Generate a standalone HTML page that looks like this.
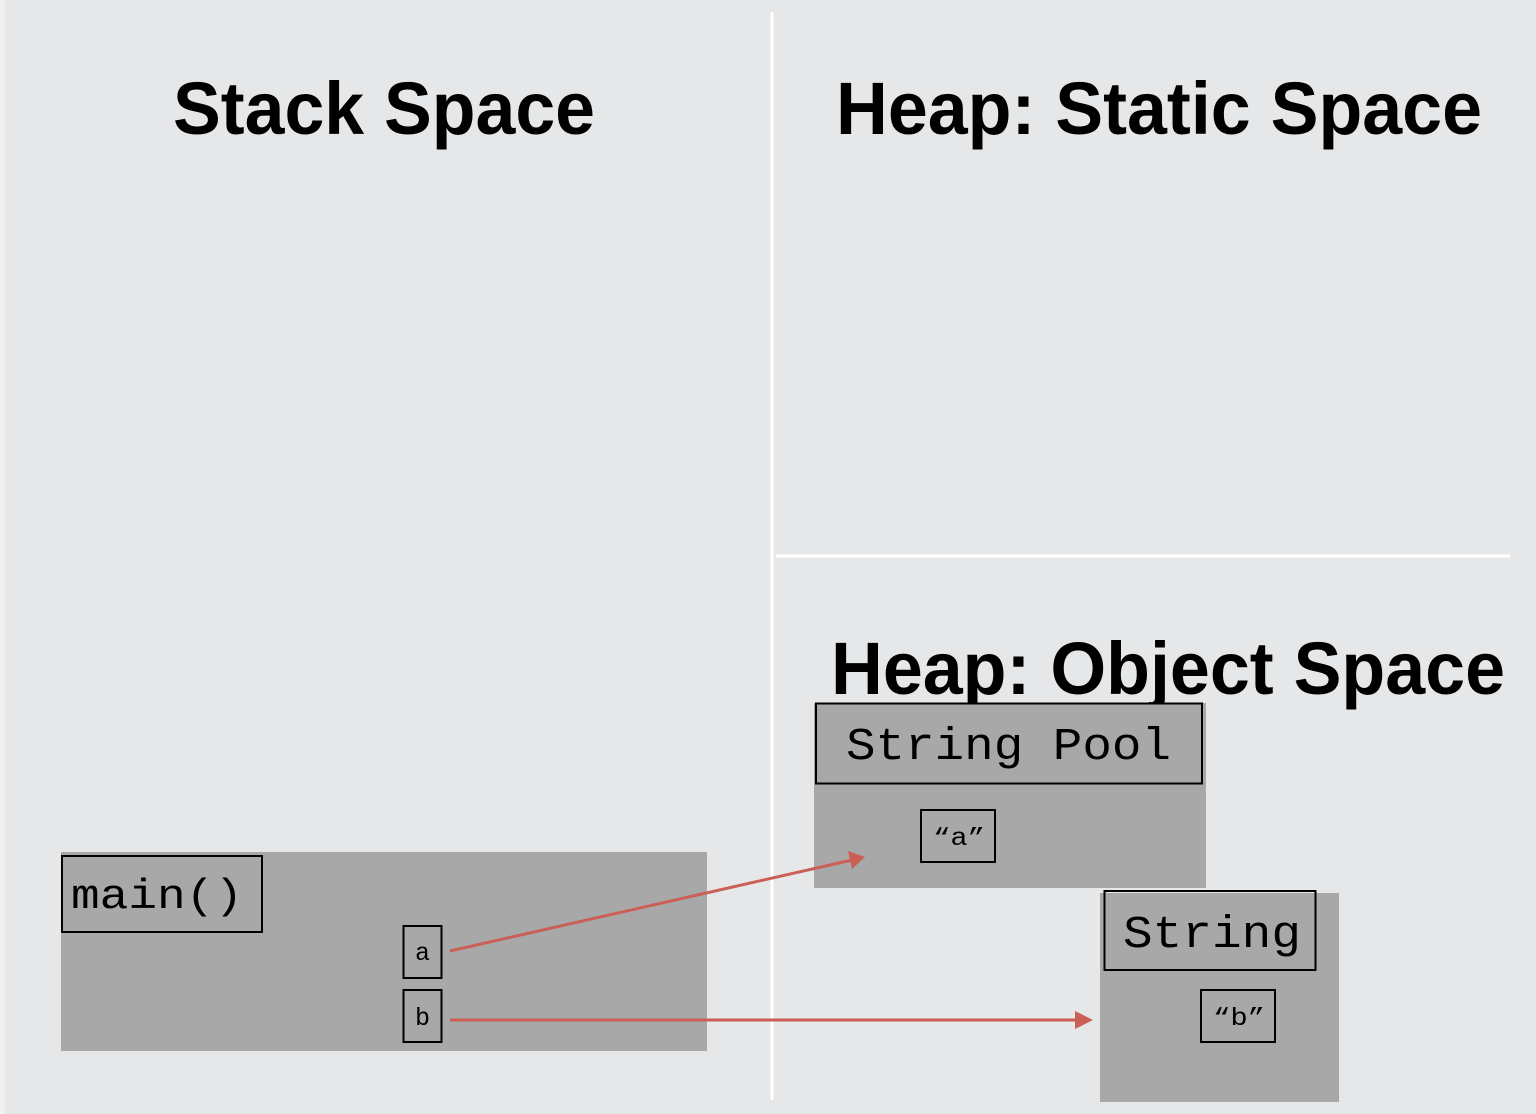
<!DOCTYPE html>
<html><head><meta charset="utf-8"><style>
html,body{margin:0;padding:0;background:#e6e7e9;}
svg{display:block}
</style></head><body>
<svg width="1536" height="1114" viewBox="0 0 1536 1114" xmlns="http://www.w3.org/2000/svg">
<rect x="0" y="0" width="1536" height="1114" fill="#e6e7e9"/>
<rect x="0" y="0" width="5" height="1114" fill="#f0f0f1"/>
<line x1="772" y1="12" x2="772" y2="1100" stroke="#ffffff" stroke-width="3"/>
<line x1="776" y1="556" x2="1510" y2="556" stroke="#ffffff" stroke-width="3"/>
<g font-family="Liberation Sans, sans-serif" font-weight="bold" font-size="74" fill="#000">
<text x="173" y="134" textLength="422" lengthAdjust="spacingAndGlyphs">Stack Space</text>
<text x="836" y="134" textLength="646" lengthAdjust="spacingAndGlyphs">Heap: Static Space</text>
<text x="831" y="694" textLength="674" lengthAdjust="spacingAndGlyphs">Heap: Object Space</text>
</g>
<g fill="#a7a8a7">
<rect x="61" y="852" width="646" height="199"/>
<rect x="814" y="703" width="392" height="185"/>
<rect x="1100" y="893" width="239" height="209"/>
</g>
<g fill="none" stroke="#000" stroke-width="2">
<rect x="62" y="856" width="200" height="76"/>
<rect x="403.5" y="926" width="38" height="52"/>
<rect x="403.5" y="990" width="38" height="52"/>
<rect x="816" y="703.5" width="386" height="80"/>
<rect x="921" y="810" width="74" height="52"/>
<rect x="1104.5" y="891" width="211" height="79"/>
<rect x="1201" y="990" width="74" height="52"/>
</g>
<g font-family="Liberation Mono, monospace" fill="#000">
<text x="71" y="908" font-size="42" textLength="172" lengthAdjust="spacingAndGlyphs">main()</text>
<text x="415" y="960" font-size="25">a</text>
<text x="415" y="1025" font-size="25">b</text>
<text x="846" y="759" font-size="45" textLength="325" lengthAdjust="spacingAndGlyphs">String Pool</text>
<text x="933" y="845" font-size="25" textLength="52" lengthAdjust="spacingAndGlyphs">“a”</text>
<text x="1123" y="947" font-size="45" textLength="178" lengthAdjust="spacingAndGlyphs">String</text>
<text x="1213" y="1025" font-size="25" textLength="52" lengthAdjust="spacingAndGlyphs">“b”</text>
</g>
<g stroke="#cb5f55" stroke-width="3" fill="#cb5f55">
<line x1="450" y1="951" x2="852" y2="860"/>
<polygon points="865,857 848,851 852,869" stroke="none"/>
<line x1="450" y1="1020" x2="1076" y2="1020"/>
<polygon points="1093,1020 1075,1011 1075,1029" stroke="none"/>
</g>
</svg>
</body></html>
